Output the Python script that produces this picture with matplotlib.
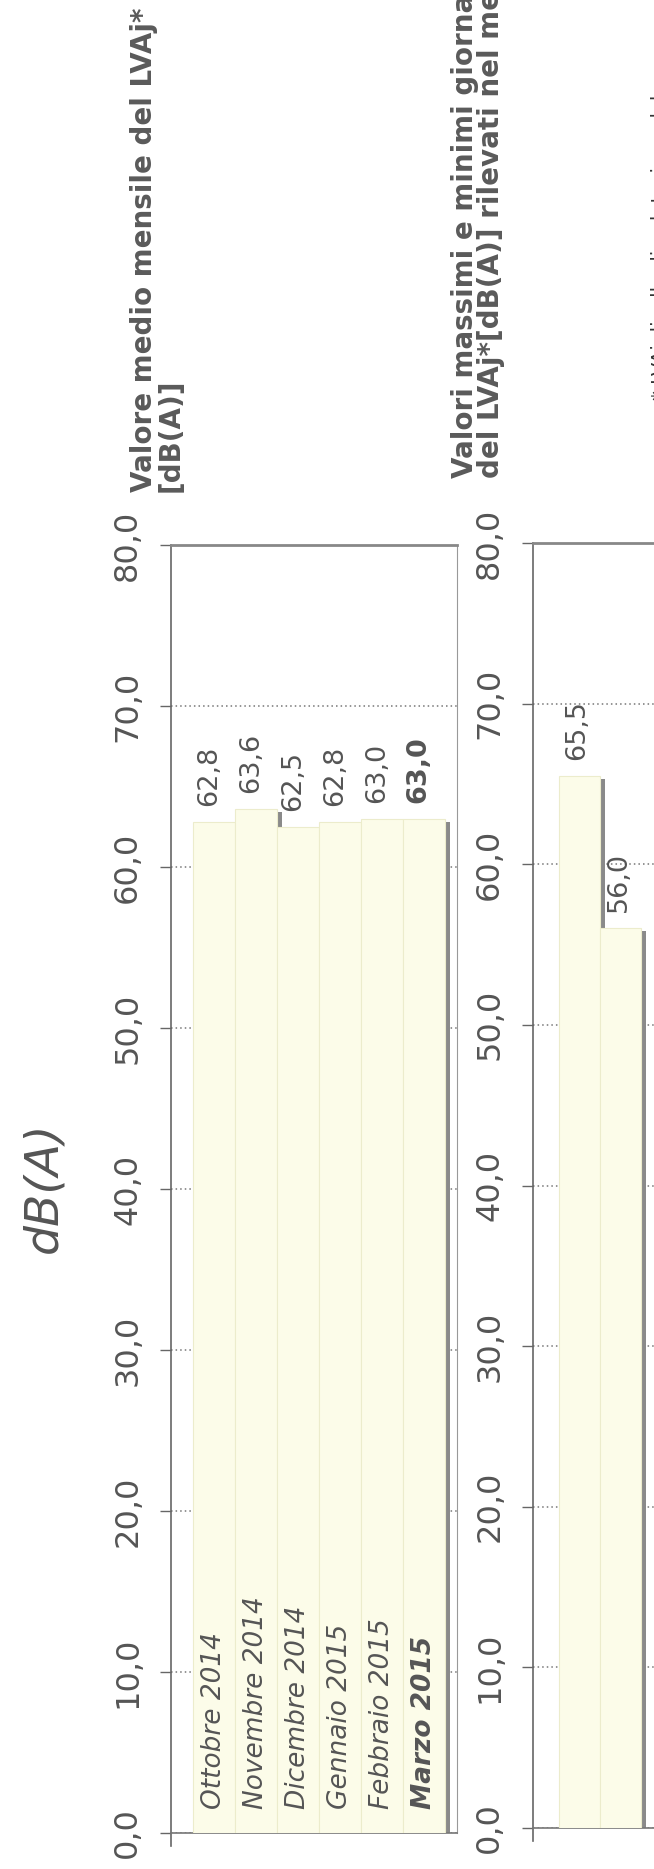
import matplotlib.pyplot as plt
import matplotlib.transforms as mtransforms

# data
months = ["Ottobre 2014", "Novembre 2014", "Dicembre 2014",
          "Gennaio 2015", "Febbraio 2015", "Marzo 2015"]
monthly_mean = [62.8, 63.6, 62.5, 62.8, 63.0, 63.0]
daily_extremes = [65.5, 56.0]
yticks = [0, 10, 20, 30, 40, 50, 60, 70, 80]

title_top = "Valore medio mensile del LVAj*\n[dB(A)]"
title_bottom = "Valori massimi e minimi giornalieri\ndel LVAj*[dB(A)] rilevati nel mese"
footnote = "* LVAj: livello di valutazione del rumore aeroportuale giornaliero"

W, H = 654, 1869
TXT = "#555555"
BAR = "#fcfce9"


def fmt(v):
    return f"{v:.1f}".replace(".", ",")


def px_axes(fig, x0, x1, y0, y80):
    # pixel box (from top-left) -> figure fraction
    return fig.add_axes([x0 / W, 1 - y0 / H, (x1 - x0) / W, (y0 - y80) / H])


def style_axes(ax, xlim):
    ax.set_ylim(0, 80)
    ax.set_xlim(*xlim)
    ax.set_xticks([])
    ax.set_yticks(yticks)
    ax.set_yticklabels([fmt(t) for t in yticks], rotation=90, va="center",
                       fontsize=23, color=TXT)
    ax.tick_params(axis="y", length=8, width=1, color="#666666", pad=12)
    ax.set_axisbelow(True)
    ax.yaxis.grid(True, linestyle=(0, (1, 2)), color="#777777", linewidth=1.1)
    ax.spines["top"].set_linestyle((0, (1, 1)))
    ax.spines["top"].set_linewidth(2)
    ax.spines["top"].set_color("#888888")
    ax.spines["left"].set_color("#666666")
    ax.spines["left"].set_linewidth(1.2)
    ax.spines["left"].set_bounds(-0.8, 80)
    ax.spines["bottom"].set_color("#777777")
    ax.spines["bottom"].set_linewidth(1.2)
    ax.spines["right"].set_color("#999999")
    ax.spines["right"].set_linewidth(0.8)


def draw_bars(fig, ax, values):
    x = list(range(len(values)))
    shadow = mtransforms.offset_copy(ax.transData, fig=fig, x=5, y=-3, units="dots")
    ax.bar(x, values, width=1.0, color="#8a8a8a", transform=shadow, zorder=2)
    ax.bar(x, values, width=1.0, color=BAR, edgecolor="#ececcc", linewidth=0.8, zorder=3)
    return x


fig = plt.figure(figsize=(W / 100, H / 100), dpi=100)
fig.patch.set_facecolor("white")

# top panel: monthly mean
ax1 = px_axes(fig, 171, 457, 1833, 545)
style_axes(ax1, (-1.02, 5.79))
draw_bars(fig, ax1, monthly_mean)
for i, (m, v) in enumerate(zip(months, monthly_mean)):
    last = i == len(months) - 1
    ax1.text(i - 0.12, v + 1.0, fmt(v), rotation=90, ha="center", va="bottom",
             fontsize=19.5, color=TXT, fontweight="bold" if last else "normal")
    ax1.text(i, 1.5, m, rotation=90, ha="center", va="bottom", fontsize=19,
             style="italic", color=TXT, fontweight="bold" if last else "normal")

# bottom panel: daily max / min (cut off by the scan)
ax2 = px_axes(fig, 533, 819, 1828, 543)
style_axes(ax2, (-1.12, 5.8))
draw_bars(fig, ax2, daily_extremes)
for i, v in enumerate(daily_extremes):
    ax2.text(i - 0.05, v + 1.0, fmt(v), rotation=90, ha="center", va="bottom",
             fontsize=19.5, color=TXT)

# titles and labels
fig.text(44 / W, 1 - 1187 / H, "dB(A)", rotation=90, ha="center", va="center",
         fontsize=34, style="italic", color=TXT)
fig.text(157 / W, 1 - 492 / H, title_top, rotation=90, ha="center", va="bottom",
         multialignment="left", fontsize=20, fontweight="bold", color="#5a5a5a",
         linespacing=0.95)
fig.text(478 / W, 1 - 478 / H, title_bottom, rotation=90, ha="center", va="bottom",
         multialignment="left", fontsize=20, fontweight="bold", color="#5a5a5a",
         linespacing=0.95)
# footnote almost entirely outside the scanned page, only glyph tops show
fig.text(651 / W, 1 - 400 / H, footnote, rotation=90, ha="left", va="bottom",
         fontsize=14, color="#333333")

fig.savefig("out.png", dpi=100)
